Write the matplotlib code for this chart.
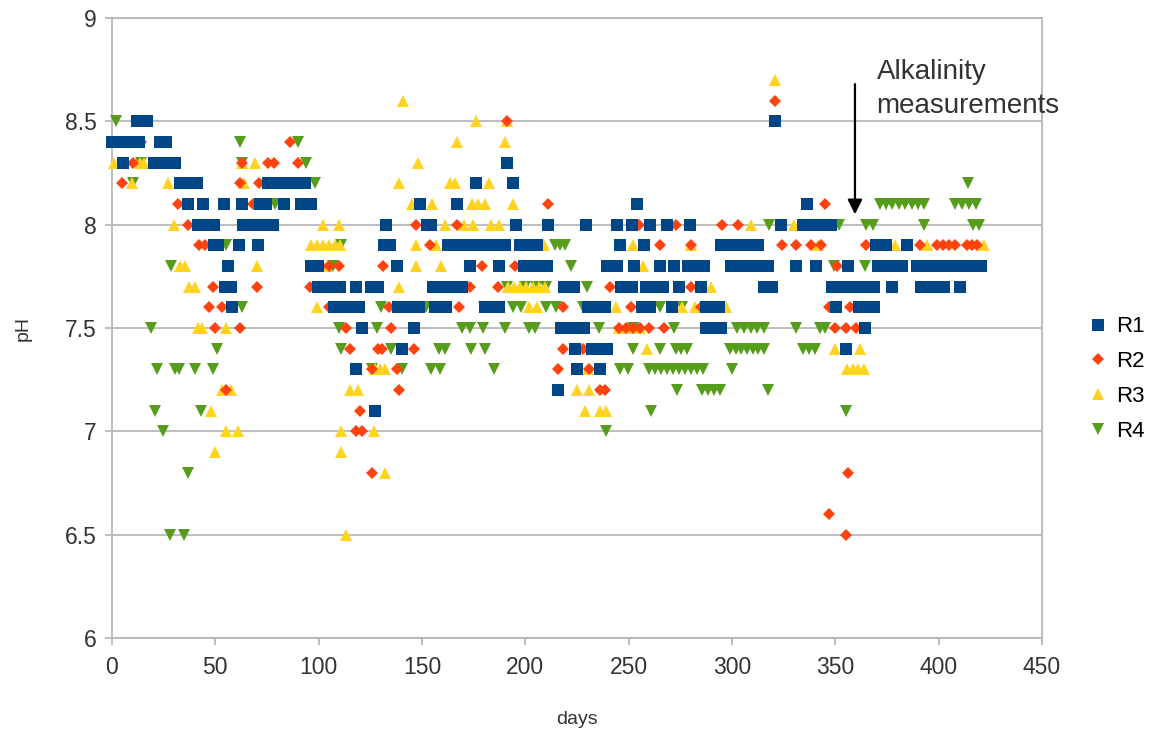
import numpy as np
import matplotlib.pyplot as plt

plt.rcParams['font.family'] = ['Liberation Sans', 'DejaVu Sans']

# pH readings per reactor, as (first day, last day, pH) runs
r1_runs = [
    (12, 17, 8.5), (321, 321, 8.5),
    (0, 13, 8.4), (23, 26, 8.4),
    (5.5, 5.5, 8.3), (20.5, 30.5, 8.3), (191, 191, 8.3),
    (33, 41, 8.2), (75.5, 93.5, 8.2), (176, 176, 8.2), (194, 194, 8.2),
    (37, 37, 8.1), (44, 44, 8.1), (54, 54, 8.1), (63, 63, 8.1), (71.5, 74.5, 8.1),
    (83, 83, 8.1), (91.5, 96.5, 8.1), (149, 149, 8.1), (167, 167, 8.1),
    (254, 254, 8.1), (336.5, 336.5, 8.1),
    (41.5, 49.5, 8.0), (63.5, 78, 8.0), (132.5, 132.5, 8.0), (152.5, 154.5, 8.0),
    (195.5, 195.5, 8.0), (211, 211, 8.0), (229.5, 229.5, 8.0), (244.5, 244.5, 8.0),
    (251.5, 251.5, 8.0), (260.5, 260.5, 8.0), (268.5, 268.5, 8.0), (279.5, 279.5, 8.0),
    (323.5, 323.5, 8.0), (334.5, 348, 8.0),
    (49.5, 51.5, 7.9), (61.5, 61.5, 7.9), (70.5, 70.5, 7.9), (131.5, 134.5, 7.9),
    (162.5, 190, 7.9), (197.5, 205.5, 7.9), (246, 246, 7.9), (257.5, 257.5, 7.9),
    (294.5, 312.5, 7.9), (369.5, 374.5, 7.9), (384.5, 384.5, 7.9),
    (56, 56, 7.8), (96.5, 99.5, 7.8), (138, 138, 7.8), (173, 173, 7.8), (187.5, 187.5, 7.8),
    (199.5, 210.5, 7.8), (239.5, 244.5, 7.8), (252.5, 252.5, 7.8), (265, 265, 7.8),
    (272, 272, 7.8), (278.5, 286.5, 7.8), (299.5, 317.5, 7.8), (331, 331, 7.8),
    (340.5, 340.5, 7.8), (356, 356, 7.8), (370.5, 382.5, 7.8), (389.5, 420.5, 7.8),
    (54.5, 57.5, 7.7), (99.5, 110.5, 7.7), (118, 118, 7.7), (125.5, 128.5, 7.7),
    (155.5, 169.5, 7.7), (218.5, 223.5, 7.7), (246.5, 251.5, 7.7), (258.5, 266.5, 7.7),
    (274.5, 274.5, 7.7), (285, 285, 7.7), (315.5, 319.5, 7.7), (348.5, 368.5, 7.7),
    (377.5, 377.5, 7.7), (391.5, 402.5, 7.7), (410.5, 410.5, 7.7),
    (58, 58, 7.6), (107.5, 119.5, 7.6), (138.5, 148.5, 7.6), (156.5, 161.5, 7.6),
    (180.5, 187.5, 7.6), (230.5, 238.5, 7.6), (256.5, 260.5, 7.6), (271, 271, 7.6),
    (287.5, 293.5, 7.6), (350.5, 350.5, 7.6), (361.5, 368.5, 7.6),
    (121, 121, 7.5), (146, 146, 7.5), (217.5, 228.5, 7.5), (287.5, 294.5, 7.5),
    (364.5, 364.5, 7.5),
    (140.5, 140.5, 7.4), (224, 224, 7.4), (232.5, 239.5, 7.4), (355, 355, 7.4),
    (118, 118, 7.3), (225, 225, 7.3), (236, 236, 7.3),
    (216, 216, 7.2),
    (127.5, 127.5, 7.1),
]

r2_runs = [
    (321, 321, 8.6),
    (191, 191, 8.5),
    (14, 14, 8.4), (86, 86, 8.4),
    (10, 10, 8.3), (63, 63, 8.3), (75.5, 78.5, 8.3), (90, 90, 8.3),
    (5, 5, 8.2), (62, 62, 8.2), (71, 71, 8.2),
    (32, 32, 8.1), (68, 68, 8.1), (211, 211, 8.1), (345, 345, 8.1),
    (37, 37, 8.0), (147, 147, 8.0), (167, 167, 8.0), (255, 255, 8.0), (273, 273, 8.0),
    (295, 295, 8.0), (303, 303, 8.0),
    (42, 42, 7.9), (45, 45, 7.9), (154, 154, 7.9), (265, 265, 7.9), (280, 280, 7.9),
    (324, 324, 7.9), (331, 331, 7.9), (338, 338, 7.9), (343, 343, 7.9), (365, 365, 7.9),
    (391, 391, 7.9), (399, 408, 7.9), (413.5, 418.5, 7.9),
    (101, 101, 7.8), (105, 105, 7.8), (110, 110, 7.8), (131, 131, 7.8), (179, 179, 7.8),
    (195, 195, 7.8), (351, 351, 7.8),
    (49, 49, 7.7), (70, 70, 7.7), (96, 96, 7.7), (173, 173, 7.7), (187, 187, 7.7),
    (241, 241, 7.7), (280, 280, 7.7),
    (47, 47, 7.6), (53, 53, 7.6), (105, 105, 7.6), (134, 134, 7.6), (168, 168, 7.6),
    (218, 218, 7.6), (251, 251, 7.6), (285, 285, 7.6), (347, 347, 7.6), (357, 357, 7.6),
    (50, 50, 7.5), (62, 62, 7.5), (113, 113, 7.5), (135, 135, 7.5), (245.5, 255.5, 7.5),
    (260, 260, 7.5), (267, 267, 7.5), (350, 350, 7.5), (355, 355, 7.5), (360, 360, 7.5),
    (115, 115, 7.4), (128.5, 130.5, 7.4), (146, 146, 7.4), (218, 218, 7.4), (228, 228, 7.4),
    (126, 126, 7.3), (138, 138, 7.3), (216, 216, 7.3), (231, 231, 7.3),
    (55, 55, 7.2), (139, 139, 7.2), (236, 238.5, 7.2),
    (120, 120, 7.1),
    (118, 121, 7.0),
    (126, 126, 6.8), (356, 356, 6.8),
    (347, 347, 6.6),
    (355, 355, 6.5),
]

r3_runs = [
    (321, 321, 8.7),
    (141, 141, 8.6),
    (176, 176, 8.5), (191, 191, 8.5),
    (167, 167, 8.4), (190, 190, 8.4),
    (1, 1, 8.3), (13.5, 15.5, 8.3), (63, 63, 8.3), (69, 69, 8.3), (148, 148, 8.3),
    (9.5, 9.5, 8.2), (27, 27, 8.2), (64, 64, 8.2), (139, 139, 8.2), (163.5, 166, 8.2),
    (182.5, 182.5, 8.2),
    (145, 145, 8.1), (155, 155, 8.1), (174, 180.5, 8.1), (194, 194, 8.1),
    (30, 30, 8.0), (102, 102, 8.0), (110, 110, 8.0), (161, 161, 8.0), (170.5, 174.5, 8.0),
    (183.5, 187.5, 8.0), (309, 309, 8.0), (330, 330, 8.0),
    (96.5, 110.5, 7.9), (147, 147, 7.9), (157, 157, 7.9), (209, 209, 7.9), (252, 252, 7.9),
    (280, 280, 7.9), (341.5, 341.5, 7.9), (379, 379, 7.9), (394.5, 394.5, 7.9),
    (422, 422, 7.9),
    (33, 35.5, 7.8), (70, 70, 7.8), (100, 100, 7.8), (104, 104, 7.8), (147, 147, 7.8),
    (159, 159, 7.8), (257, 257, 7.8),
    (37.5, 40, 7.7), (139, 139, 7.7), (191.5, 209.5, 7.7), (290, 290, 7.7),
    (99, 99, 7.6), (202, 205.5, 7.6), (244, 244, 7.6), (276, 276, 7.6), (282, 282, 7.6),
    (297, 297, 7.6),
    (41.5, 43.5, 7.5), (55, 55, 7.5), (245.5, 255.5, 7.5),
    (259, 259, 7.4), (350, 350, 7.4), (362, 362, 7.4),
    (127.5, 132, 7.3), (230.5, 230.5, 7.3), (355.5, 364, 7.3),
    (53, 57.5, 7.2), (115, 119, 7.2), (225, 225, 7.2), (231, 231, 7.2),
    (48, 48, 7.1), (229, 229, 7.1), (236, 239, 7.1),
    (55, 55, 7.0), (61, 61, 7.0), (111, 111, 7.0), (127, 127, 7.0),
    (50, 50, 6.9), (111, 111, 6.9),
    (132, 132, 6.8),
    (113, 113, 6.5),
]

r4_runs = [
    (2, 2, 8.5),
    (62, 62, 8.4), (90, 90, 8.4),
    (14, 14, 8.3), (63, 63, 8.3), (94, 94, 8.3),
    (10, 10, 8.2), (98, 98, 8.2), (414, 414, 8.2),
    (79, 79, 8.1), (371.5, 393, 8.1), (408, 418, 8.1),
    (318, 318, 8.0), (352, 352, 8.0), (365, 365, 8.0), (368, 368, 8.0), (393, 393, 8.0),
    (416.5, 419.5, 8.0),
    (55, 55, 7.9), (111, 111, 7.9), (214.5, 219, 7.9),
    (28.5, 28.5, 7.8), (107, 107, 7.8), (222, 222, 7.8), (349.5, 349.5, 7.8),
    (364.5, 364.5, 7.8),
    (191, 191, 7.7), (200, 200, 7.7), (205, 205, 7.7), (210, 210, 7.7), (230, 230, 7.7),
    (63, 63, 7.6), (130, 130, 7.6), (152, 152, 7.6), (180, 180, 7.6), (194, 198, 7.6),
    (210, 210, 7.6), (215, 215, 7.6), (228, 228, 7.6), (262, 262, 7.6), (265, 265, 7.6),
    (276, 276, 7.6),
    (19, 19, 7.5), (110, 110, 7.5), (128, 128, 7.5), (169.5, 173, 7.5), (179.5, 179.5, 7.5),
    (190, 190, 7.5), (202, 204.5, 7.5), (235.5, 235.5, 7.5), (252, 252, 7.5),
    (272, 272, 7.5), (302.5, 315.5, 7.5), (331, 331, 7.5), (342.5, 345, 7.5),
    (51, 51, 7.4), (111, 112.5, 7.4), (135, 135, 7.4), (158, 161, 7.4), (173.5, 173.5, 7.4),
    (180.5, 180.5, 7.4), (252, 252, 7.4), (265, 265, 7.4), (273, 278, 7.4),
    (299, 315.5, 7.4), (334.5, 340, 7.4),
    (22, 22, 7.3), (30.5, 32.5, 7.3), (40, 40, 7.3), (49, 49, 7.3), (126, 126, 7.3),
    (140.5, 140.5, 7.3), (154.5, 158.5, 7.3), (185, 185, 7.3), (246, 249.5, 7.3),
    (260, 286, 7.3), (300, 300, 7.3),
    (273.5, 273.5, 7.2), (285.5, 294, 7.2), (317.5, 317.5, 7.2),
    (21, 21, 7.1), (43, 43, 7.1), (261, 261, 7.1), (355, 355, 7.1),
    (24.5, 24.5, 7.0), (239, 239, 7.0),
    (37, 37, 6.8),
    (28, 28, 6.5), (35, 35, 6.5),
]

labels = ['R1', 'R2', 'R3', 'R4']
colors = ['#004586', '#ff420e', '#ffd320', '#579d1c']
markers = ['s', 'D', '^', 'v']
sizes = [8, 6.2, 8.6, 8.6]


def expand(runs):
    # one reading roughly every third day inside a run
    days, ph = [], []
    for a, b, v in runs:
        n = int(round((b - a) / 3)) + 1
        d = np.linspace(a, b, n)
        days.extend(d)
        ph.extend([v] * len(d))
    return np.array(days), np.array(ph)


fig = plt.figure(figsize=(11.51, 7.29), dpi=100)
ax = fig.add_axes([0.0973, 0.1248, 0.808, 0.8505])

series = [r1_runs, r2_runs, r3_runs, r4_runs]
handles = []
for i, runs in enumerate(series):
    x, y = expand(runs)
    h, = ax.plot(x, y, linestyle='none', marker=markers[i], markersize=sizes[i],
                 color=colors[i], markeredgewidth=0, label=labels[i],
                 zorder=10 - i, clip_on=False)
    handles.append(h)

ax.set_xlim(0, 450)
ax.set_ylim(6, 9)
ax.set_xticks(np.arange(0, 451, 50))
ax.set_yticks([6, 6.5, 7, 7.5, 8, 8.5, 9])
ax.set_yticklabels(['6', '6.5', '7', '7.5', '8', '8.5', '9'])
ax.yaxis.grid(True, color='#b3b3b3', linewidth=1.2)
ax.set_axisbelow(True)
for s in ax.spines.values():
    s.set_color('#b3b3b3')
    s.set_linewidth(1.2)
ax.tick_params(colors='#b3b3b3', labelcolor='#333333', labelsize=16.5,
               length=5, width=1.2, direction='out')
ax.tick_params(axis='x', pad=8)
ax.tick_params(axis='y', pad=6)

ax.set_xlabel('days', fontsize=14, color='#333333', labelpad=23)
ax.set_ylabel('pH', fontsize=14, color='#333333', labelpad=24)

ax.annotate('', xy=(359.5, 8.05), xytext=(359.5, 8.68),
            arrowprops=dict(arrowstyle='-|>', color='black', lw=1.6,
                            mutation_scale=22, shrinkA=0, shrinkB=0))
ax.text(370, 8.80, 'Alkalinity\nmeasurements', fontsize=20, color='#333333',
        va='top', ha='left', linespacing=1.4)

fig.legend(handles=handles, loc='center left', bbox_to_anchor=(0.937, 0.48),
           frameon=False, fontsize=16, handlelength=0.8, handletextpad=0.4,
           labelspacing=0.62, borderpad=0)

fig.savefig('out.png', dpi=100)
